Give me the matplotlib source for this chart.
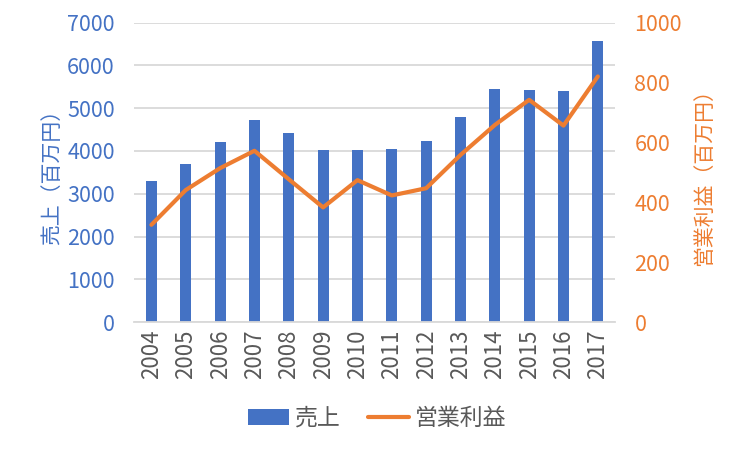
import matplotlib.pyplot as plt
import numpy as np

plt.rcParams['font.family'] = ['Noto Sans CJK JP', 'DejaVu Sans']

# data
years = ['2004', '2005', '2006', '2007', '2008', '2009', '2010',
         '2011', '2012', '2013', '2014', '2015', '2016', '2017']
sales = [3300, 3700, 4210, 4730, 4420, 4030, 4030,
         4050, 4240, 4800, 5450, 5430, 5400, 6570]
profit = [325, 441, 514, 572, 477, 383, 474,
          423, 447, 558, 658, 742, 656, 820]

blue = '#4472C4'
orange = '#ED7D31'
grey = '#595959'

fig = plt.figure(figsize=(7.5, 4.5), dpi=100)
ax = fig.add_axes([0.179, 0.284, 0.641, 0.666])
ax2 = ax.twinx()

x = np.arange(len(years))
b = ax.bar(x, sales, width=0.32, color=blue, label='売上', zorder=2)
l, = ax2.plot(x, profit, color=orange, lw=3, label='営業利益',
              solid_capstyle='round', solid_joinstyle='round', zorder=3)

ax.set_xlim(-0.5, len(years) - 0.5)
ax.set_ylim(0, 7000)
ax.set_yticks(range(0, 7001, 1000))
ax2.set_ylim(0, 1000)
ax2.set_yticks(range(0, 1001, 200))

ax.yaxis.grid(True, color='#D9D9D9', lw=1.3, zorder=0)
ax.set_axisbelow(True)
for a in (ax, ax2):
    for s in a.spines.values():
        s.set_visible(False)
ax.spines['bottom'].set_visible(True)
ax.spines['bottom'].set_color('#D9D9D9')
ax.spines['bottom'].set_linewidth(1.3)

ax.set_xticks(x)
ax.set_xticklabels(years, rotation=90, fontsize=16, color=grey)
ax.tick_params(axis='x', length=0, pad=5)
ax.tick_params(axis='y', length=0, labelsize=15.5, labelcolor=blue, pad=14)
ax2.tick_params(axis='y', length=0, labelsize=15.5, labelcolor=orange, pad=14)

ax.set_ylabel('売上（百万円）', fontsize=15, color=blue, labelpad=3)
ax2.set_ylabel('営業利益（百万円）', fontsize=15, color=orange, labelpad=8)

fig.legend([b, l], ['売上', '営業利益'], loc='center', bbox_to_anchor=(0.503, 0.07),
           ncol=2, frameon=False, fontsize=16.5, handlelength=1.8,
           handletextpad=0.25, columnspacing=1.2, labelcolor=grey)

fig.savefig('out.png', dpi=100)
